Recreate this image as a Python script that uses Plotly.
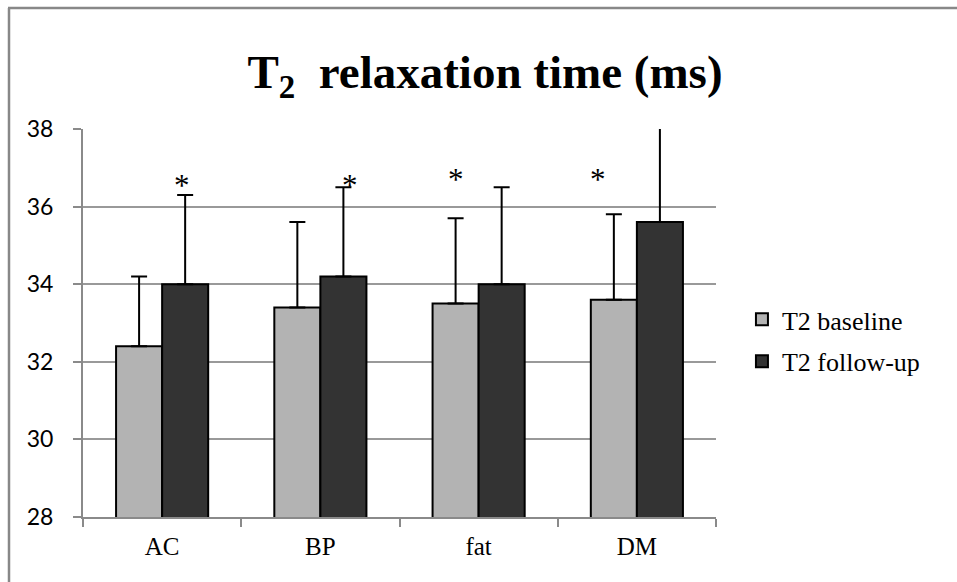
import plotly.graph_objects as go

categories = ["AC", "BP", "fat", "DM"]
baseline = [32.4, 33.4, 33.5, 33.6]
baseline_err = [1.8, 2.2, 2.2, 2.2]
followup = [34.0, 34.2, 34.0, 35.6]
followup_err = [2.3, 2.3, 2.5, 2.8]
y_ticks = [28, 30, 32, 34, 36, 38]

# asterisks: category, which bar (0 baseline, 1 follow-up), y level
star_cat = ["AC", "BP", "fat", "DM"]
star_bar = [1, 1, 0, 0]
star_y = [36.55, 36.55, 36.7, 36.7]
star_shift = [-3, 7, 0, -16]

fig = go.Figure()
fig.add_trace(go.Bar(
    x=categories, y=baseline, name="T2 baseline", legendgroup="a",
    marker=dict(color="#b3b3b3", line=dict(color="black", width=2)),
    error_y=dict(type="data", symmetric=False, array=baseline_err,
                 arrayminus=[0] * 4, color="black", thickness=2, width=8),
))
fig.add_trace(go.Bar(
    x=categories, y=followup, name="T2 follow-up", legendgroup="b",
    marker=dict(color="#333333", line=dict(color="black", width=2)),
    error_y=dict(type="data", symmetric=False, array=followup_err,
                 arrayminus=[0] * 4, color="black", thickness=2, width=8),
))

bar_half = 0.582 / 4
for c, b, y, s in zip(star_cat, star_bar, star_y, star_shift):
    xi = categories.index(c) + (bar_half if b == 1 else -bar_half)
    fig.add_annotation(x=xi, y=y, text="*", showarrow=False, xshift=s,
                       font=dict(family="Liberation Serif", size=31, color="black"))

fig.update_layout(
    width=957, height=582,
    paper_bgcolor="white", plot_bgcolor="white",
    margin=dict(l=83, r=241, t=129, b=65),
    barmode="group", bargap=0.418, bargroupgap=0,
    title=dict(text="<b>T<sub>2</sub>  relaxation time (ms)</b>",
               x=485 / 957, xanchor="center", y=1 - 72 / 582, yanchor="middle",
               font=dict(family="Liberation Serif", size=47, color="black")),
    legend=dict(x=1.041, xanchor="left", y=0.455, yanchor="middle",
                font=dict(family="Liberation Serif", size=26, color="black"),
                traceorder="grouped", tracegroupgap=5, bgcolor="rgba(0,0,0,0)"),
    showlegend=True,
    shapes=[
        dict(type="line", xref="paper", yref="paper", x0=-74 / 633, x1=-74 / 633,
             y0=-1, y1=1 + 121 / 388, line=dict(color="#888888", width=2.5)),
        dict(type="line", xref="paper", yref="paper", x0=-75 / 633, x1=2,
             y0=1 + 121 / 388, y1=1 + 121 / 388, line=dict(color="#888888", width=2.5)),
    ],
)
fig.update_yaxes(range=[28, 38], tickvals=y_ticks, showgrid=True,
                 gridcolor="#999999", gridwidth=2, showline=True,
                 linecolor="#8a8a8a", linewidth=2, ticks="outside", ticklen=8,
                 tickcolor="#8a8a8a", tickwidth=2, ticklabelstandoff=15,
                 tickfont=dict(family="Lato", size=23, color="black"), zeroline=False)
fig.update_xaxes(showline=True, linecolor="#8a8a8a", linewidth=2,
                 ticks="outside", tickson="boundaries", ticklen=8,
                 tickcolor="#8a8a8a", tickwidth=2, ticklabelstandoff=6,
                 tickfont=dict(family="Liberation Serif", size=25, color="black"))

fig.write_html("out.html", config={"displayModeBar": False},
               post_script="document.body.style.margin='0';")
